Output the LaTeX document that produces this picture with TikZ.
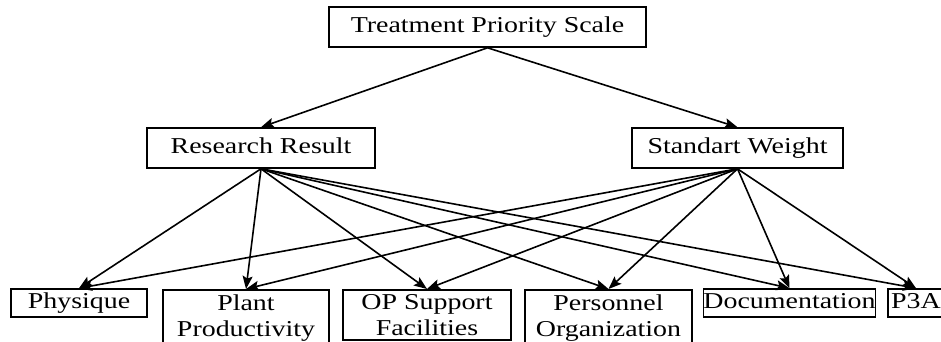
\documentclass[tikz,border=0pt]{standalone}
\usepackage{fontspec}
\setmainfont{Liberation Serif}[FakeStretch=1.23]
\usetikzlibrary{arrows.meta}
\tikzset{
  basebox/.style={draw=black, line width=1.6pt, inner xsep=0pt, align=center,
    font=\fontsize{22.7}{26}\selectfont, text=black},
  bigbox/.style={basebox, text height=15.5pt, text depth=5pt, inner ysep=9.75pt},
  leafbox/.style={basebox, text height=15.5pt, text depth=5pt, inner ysep=3.75pt},
  leaftwo/.style={basebox, inner ysep=4.5pt, anchor=north},
  arr/.style={draw=black, line width=1.6pt, -{Stealth[length=13pt,width=10pt,inset=2.5pt]}}
}
\begin{document}
\begin{tikzpicture}[x=1pt,y=-1pt]
\useasboundingbox (0,0) rectangle (941,342);
\node[bigbox, minimum width=317pt] (top) at (487.5,27) {Treatment Priority Scale};
\node[bigbox, minimum width=228pt] (rr) at (261,148) {Research Result};
\node[bigbox, minimum width=211pt] (sw) at (737.5,148) {Standart Weight};
\node[leafbox, minimum width=136pt] (phy) at (79,303) {Physique};
\node[leaftwo, minimum width=166pt] (plant) at (246,289) {Plant\\Productivity};
\node[leaftwo, minimum width=168pt] (op) at (427,289) {OP Support\\Facilities};
\node[leaftwo, minimum width=167pt] (pers) at (608.5,289) {Personnel\\Organization};
\node[leafbox, minimum width=167pt] (doc) at (789.5,303) {Documentation};
\node[leafbox, minimum width=56pt] (p3a) at (916,303) {P3A};
\draw[arr] (top.south) -- (rr.north);
\draw[arr] (top.south) -- (sw.north);
\foreach \c in {phy,plant,op,pers,doc,p3a}{
  \draw[arr] (rr.south) -- (\c.north);
  \draw[arr] (sw.south) -- (\c.north);
}
\end{tikzpicture}
\end{document}
